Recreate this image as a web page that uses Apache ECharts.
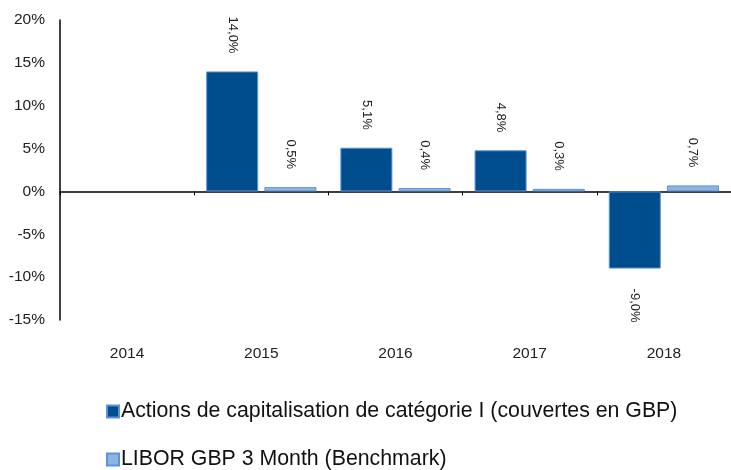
<!DOCTYPE html>
<html>
<head>
<meta charset="utf-8">
<script src="https://cdn.jsdelivr.net/npm/echarts@6/dist/echarts.min.js"></script>
<style>
html, body { margin: 0; padding: 0; background: #fff; }
#chart { width: 731px; height: 470px; }
</style>
</head>
<body>
<div id="chart"></div>
<script>
// données
var years = ['2014', '2015', '2016', '2017', '2018'];
var fundName = 'Actions de capitalisation de catégorie I (couvertes en GBP)';
var benchName = 'LIBOR GBP 3 Month (Benchmark)';
var fundValues = [null, 14.0, 5.1, 4.8, -9.0];
var benchValues = [null, 0.5, 0.4, 0.3, 0.7];

var font = 'Liberation Sans, Arial, sans-serif';

function fmt(v) {
	return v.toFixed(1).replace('.', ',') + '%';
}

//libellés verticaux au-dessus / en dessous des barres
function withLabels(values) {
	return values.map(function (v) {
		if (v === null) return '-';
		if (v < 0) {
			return {
				value: v,
				label: { position: 'bottom', align: 'left', distance: 20 }
			};
		}
		return v;
	});
}

var labelStyle = {
	show: true,
	position: 'top',
	rotate: -90,
	align: 'right',
	verticalAlign: 'middle',
	distance: 18,
	color: '#222',
	fontSize: 13,
	fontFamily: font,
	formatter: function (p) { return fmt(p.value); }
};

function legendAt(name, top) {
	return {
		orient: 'horizontal',
		left: 101,
		top: top,
		itemWidth: 12,
		itemHeight: 12,
		icon: 'rect',
		textStyle: { fontSize: 21.3, color: '#111', fontFamily: font, padding: [0, 0, 0, -3] },
		data: [name]
	};
}

var myChart = echarts.init(document.getElementById('chart'));
var option = {
	animation: false,
	grid: { left: 60, top: 20, width: 675, height: 300 },
	legend: [legendAt(fundName, 396), legendAt(benchName, 444)],
	xAxis: [{
		type: 'category',
		data: years,
		position: 'bottom',
		axisLine: { show: false, onZero: false },
		axisTick: { show: false },
		axisLabel: { color: '#222', fontSize: 15.5, fontFamily: font, margin: 26 }
	}, {
		type: 'category',
		data: years,
		position: 'bottom',
		axisLine: { show: true, onZero: true, lineStyle: { color: '#000', width: 1.5 } },
		axisTick: { show: true, length: 4, lineStyle: { color: '#000' } },
		axisLabel: { show: false }
	}],
	yAxis: {
		type: 'value',
		min: -15,
		max: 20,
		interval: 5,
		axisLine: { show: true, lineStyle: { color: '#000', width: 1.5 } },
		axisTick: { show: false },
		splitLine: { show: false },
		axisLabel: {
			color: '#222', fontSize: 15.5, fontFamily: font, margin: 15,
			formatter: '{value}%'
		}
	},
	series: [{
		name: fundName,
		type: 'bar',
		xAxisIndex: 0,
		barWidth: 52,
		barGap: '12%',
		itemStyle: { color: '#004d8e', borderColor: '#5b93d6', borderWidth: 1 },
		label: labelStyle,
		data: withLabels(fundValues)
	}, {
		name: benchName,
		type: 'bar',
		xAxisIndex: 0,
		barWidth: 52,
		barGap: '12%',
		itemStyle: { color: '#8db5e3', borderColor: '#5b93d6', borderWidth: 1 },
		label: labelStyle,
		data: withLabels(benchValues)
	}]
};
myChart.setOption(option);
</script>
</body>
</html>
